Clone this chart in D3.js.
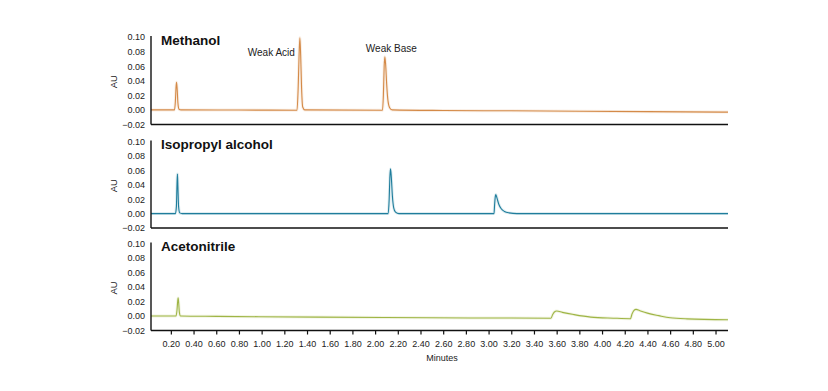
<!DOCTYPE html>
<html>
<head>
<meta charset="utf-8">
<script src="https://cdn.jsdelivr.net/npm/d3@7/dist/d3.min.js"></script>
<style>
  body { margin: 0; background: #fff; }
  svg { display: block; }
  text { font-family: "Liberation Sans", Arial, Helvetica, sans-serif; fill: #222; }
</style>
</head>
<body>
<svg id="chart" width="828" height="391"></svg>
<script>
// ---- Data (time in minutes, absorbance in AU) ----
const panelNames = ["Methanol", "Isopropyl alcohol", "Acetonitrile"];
const panelColors = ["#d48a48", "#1f7d9c", "#9fb545"];
const yTickValues = [-0.02, 0.00, 0.02, 0.04, 0.06, 0.08, 0.10];
const xTickValues = [0.2,0.4,0.6,0.8,1.0,1.2,1.4,1.6,1.8,2.0,2.2,2.4,2.6,2.8,3.0,3.2,3.4,3.6,3.8,4.0,4.2,4.4,4.6,4.8,5.0];
const peakLabels = [
  { text: "Weak Acid", t: 1.337, v: 0.099 },
  { text: "Weak Base", t: 2.086, v: 0.073 }
];

const methanol = [
  [0.025,0.000],[0.232,0.000],[0.240,0.012],[0.246,0.032],[0.250,0.038],[0.255,0.030],[0.262,0.010],[0.272,0.001],[0.290,0.000],
  [0.800,-0.0002],[1.312,-0.0004],[1.322,0.030],[1.330,0.075],[1.337,0.099],[1.344,0.075],[1.352,0.030],[1.362,0.004],[1.380,0.000],
  [2.065,-0.0005],[2.073,0.020],[2.080,0.060],[2.086,0.073],[2.093,0.062],[2.102,0.035],[2.113,0.013],[2.128,0.003],[2.150,0.000],
  [2.600,-0.0008],[3.200,-0.0012],[3.800,-0.0018],[4.400,-0.0024],[5.110,-0.0030]
];
const isopropyl = [
  [0.025,0.000],[0.240,0.000],[0.249,0.010],[0.254,0.040],[0.258,0.055],[0.262,0.038],[0.268,0.010],[0.278,0.001],[0.300,0.000],
  [2.115,0.000],[2.124,0.020],[2.130,0.050],[2.136,0.062],[2.143,0.050],[2.152,0.025],[2.164,0.008],[2.180,0.002],[2.210,0.000],
  [3.048,0.000],[3.053,0.012],[3.058,0.022],[3.064,0.0265],[3.075,0.021],[3.090,0.013],[3.110,0.007],[3.140,0.003],[3.180,0.001],[3.250,0.000],
  [5.110,0.000]
];
const acetonitrile = [
  [0.025,0.000],[0.245,0.000],[0.254,0.008],[0.260,0.020],[0.264,0.025],[0.269,0.018],[0.275,0.005],[0.285,0.000],
  [0.600,-0.0005],[1.500,-0.0015],[2.500,-0.0025],[3.200,-0.0028],[3.550,-0.0030],[3.565,0.0020],[3.580,0.0055],[3.600,0.0068],
  [3.650,0.0050],[3.750,0.0020],[3.900,-0.0015],[4.100,-0.0030],[4.250,-0.0037],[4.265,0.0030],[4.280,0.0075],[4.300,0.0091],
  [4.330,0.0075],[4.400,0.0040],[4.500,0.0005],[4.600,-0.0025],[4.750,-0.0040],[5.110,-0.0051]
];
const seriesList = [methanol, isopropyl, acetonitrile];

// ---- Layout ----
const svg = d3.select("#chart");
const x = d3.scaleLinear().domain([0.025, 5.11]).range([151, 728]);
const panels = [
  { top: 37, bottom: 124.5 },
  { top: 141.5, bottom: 228 },
  { top: 243.5, bottom: 330.5 }
];
const titleBaselines = [44.5, 148.5, 250.5];

panels.forEach((p, i) => {
  const y = d3.scaleLinear().domain([-0.02, 0.10]).range([p.bottom, p.top]);
  const g = svg.append("g");

  // data line
  const line = d3.line().x(d => x(d[0])).y(d => y(d[1])).curve(d3.curveMonotoneX);
  g.append("path")
    .datum(seriesList[i])
    .attr("fill", "none")
    .attr("stroke", panelColors[i])
    .attr("stroke-opacity", 0.15)
    .attr("stroke-width", 3)
    .attr("d", line);
  g.append("path")
    .datum(seriesList[i])
    .attr("fill", "none")
    .attr("stroke", panelColors[i])
    .attr("stroke-width", 1.1)
    .attr("stroke-linejoin", "round")
    .attr("d", line);

  // y axis (labels only, with vertical line)
  const yAxis = d3.axisLeft(y).tickValues(yTickValues).tickSize(0).tickPadding(6)
    .tickFormat(d3.format(".2f"));
  const ya = g.append("g").attr("transform", `translate(151,0)`).call(yAxis);
  ya.select(".domain").attr("stroke", "#111").attr("stroke-width", 1.4)
    .attr("d", `M0,${p.bottom}V${y(0.10) - 1}`);
  ya.selectAll("text").attr("font-size", 9).style("fill", "#222")
    .style("font-family", '"Liberation Sans", Arial, sans-serif');

  // bottom axis line
  if (i < 2) {
    g.append("line").attr("x1", 151).attr("x2", 728)
      .attr("y1", p.bottom).attr("y2", p.bottom)
      .attr("stroke", "#111").attr("stroke-width", 1.6);
  } else {
    const xAxis = d3.axisBottom(x).tickValues(xTickValues).tickSize(4).tickPadding(6)
      .tickFormat(d3.format(".2f"));
    const xa = g.append("g").attr("transform", `translate(0,${p.bottom})`).call(xAxis);
    xa.select(".domain").attr("stroke", "#111").attr("stroke-width", 1.6)
      .attr("d", `M151,0H728`);
    xa.selectAll(".tick line").attr("stroke", "#111").attr("stroke-width", 1.2);
    xa.selectAll("text").attr("font-size", 9).style("fill", "#222")
      .style("font-family", '"Liberation Sans", Arial, sans-serif');
    svg.append("text").attr("x", 442).attr("y", 361).attr("text-anchor", "middle")
      .attr("font-size", 9).text("Minutes");
  }

  // AU label
  const cy = (p.top + p.bottom) / 2 + 1;
  svg.append("text")
    .attr("transform", `translate(117,${cy}) rotate(-90)`)
    .attr("text-anchor", "middle")
    .attr("font-size", 9.5)
    .text("AU");

  // panel title
  svg.append("text")
    .attr("x", 161).attr("y", titleBaselines[i])
    .attr("font-size", 13.5).attr("font-weight", "bold")
    .style("fill", "#111")
    .text(panelNames[i]);

  if (i === 0) {
    // Weak Acid sits left of its peak; Weak Base sits above its peak
    svg.append("text")
      .attr("x", x(peakLabels[0].t) - 5)
      .attr("y", 55.7)
      .attr("text-anchor", "end")
      .attr("font-size", 10)
      .text(peakLabels[0].text);
    svg.append("text")
      .attr("x", x(peakLabels[1].t) - 19)
      .attr("y", 51.5)
      .attr("text-anchor", "start")
      .attr("font-size", 10)
      .text(peakLabels[1].text);
  }
});
</script>
</body>
</html>
